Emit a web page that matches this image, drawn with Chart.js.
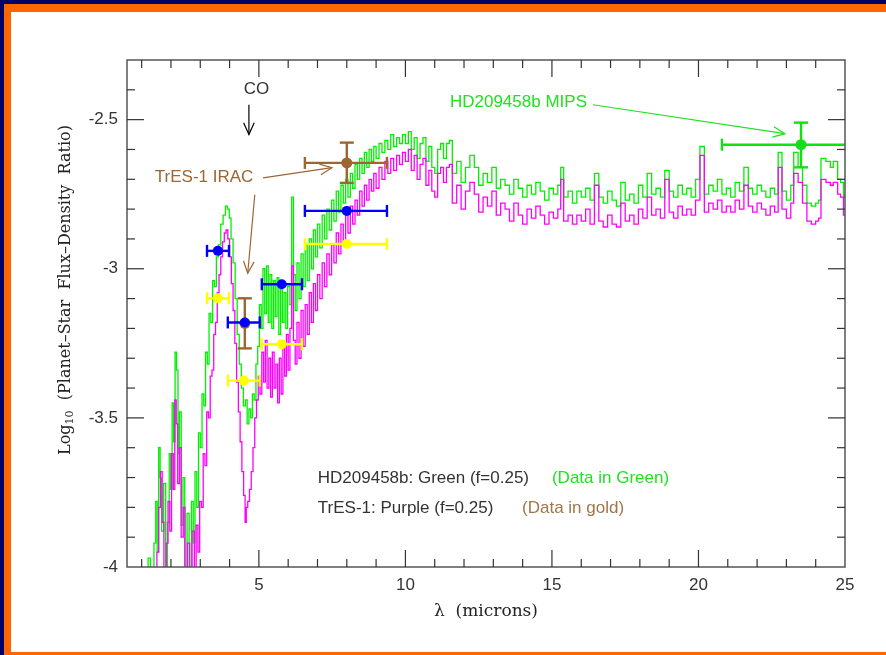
<!DOCTYPE html>
<html>
<head>
<meta charset="utf-8">
<script src="https://cdn.jsdelivr.net/npm/chart.js@4.4.1/dist/chart.umd.min.js"></script>
<style>
html, body { margin: 0; padding: 0; width: 886px; height: 655px; overflow: hidden; background: #000066; }
#frame { position: absolute; left: 4px; top: 4px; width: 900px; height: 640px; background: #fff;
         border-left: 7px solid #ff6600; border-top: 8px solid #ff6600; border-bottom: 3px solid #ff6600; }
#c { position: absolute; left: 0; top: 0; }
</style>
</head>
<body>
<div id="frame"></div>
<canvas id="c" width="886" height="655"></canvas>
<script>
/* Planet-star flux ratio spectra, HD209458b vs TrES-1 */

// ── Axis ticks ────────────────────────────────────────────────────
const xTickLabels = [5, 10, 15, 20, 25];
const yTickLabels = [-4, -3.5, -3, -2.5];

// ── Model spectra (microns, log10 ratio) ──────────────────────────
const greenX = [1.00,1.15,1.22,1.30,1.42,1.48,1.53,1.58,1.63,1.68,1.75,1.82,1.88,1.94,1.99,2.04,2.09,2.14,2.19,2.24,
  2.29,2.35,2.41,2.47,2.55,2.62,2.70,2.76,2.82,2.88,2.94,3.00,3.06,3.12,3.18,3.24,3.30,3.36,3.42,3.48,
  3.55,3.62,3.70,3.78,3.86,3.93,3.99,4.05,4.12,4.19,4.26,4.33,4.40,4.47,4.54,4.60,4.66,4.72,4.78,4.84,
  4.90,4.96,5.02,5.08,5.14,5.20,5.26,5.32,5.38,5.44,5.50,5.56,5.62,5.68,5.74,5.80,5.86,5.92,5.98,6.06,
  6.12,6.18,6.24,6.30,6.37,6.44,6.51,6.58,6.65,6.72,6.79,6.86,6.93,7.00,7.08,7.16,7.24,7.32,7.40,7.48,
  7.56,7.64,7.72,7.80,7.88,7.96,8.04,8.12,8.20,8.28,8.36,8.44,8.52,8.60,8.68,8.76,8.84,8.92,9.00,9.10,
  9.20,9.30,9.40,9.50,9.60,9.70,9.80,9.90,10.00,10.10,10.20,10.30,10.40,10.50,10.60,10.70,10.80,10.90,11.00,11.10,
  11.20,11.30,11.40,11.50,11.60,11.75,11.90,12.05,12.20,12.35,12.50,12.65,12.80,12.95,13.10,13.25,13.40,13.55,13.70,13.85,
  14.00,14.15,14.30,14.45,14.60,14.75,14.90,15.05,15.20,15.30,15.40,15.55,15.70,15.85,16.00,16.15,16.30,16.45,16.60,16.75,
  16.90,17.05,17.20,17.35,17.50,17.65,17.80,17.95,18.10,18.25,18.40,18.55,18.70,18.85,19.00,19.15,19.30,19.45,19.60,19.75,
  19.90,20.05,20.20,20.35,20.50,20.65,20.80,20.95,21.10,21.25,21.40,21.55,21.70,21.85,22.00,22.15,22.30,22.45,22.60,22.72,
  22.85,23.00,23.15,23.25,23.40,23.55,23.70,23.85,24.00,24.10,24.18,24.35,24.50,24.60,24.75,24.85,24.95,25.00];
const greenY = [-4.10,-4.02,-3.97,-4.10,-3.92,-3.78,-3.95,-3.60,-3.70,-3.88,-3.72,-4.05,-3.85,-3.62,-3.74,-3.45,-3.58,-3.28,-3.34,-3.62,
  -3.48,-3.86,-3.70,-4.05,-3.82,-4.08,-3.78,-3.92,-3.68,-3.80,-3.55,-3.60,-3.42,-3.46,-3.28,-3.32,-3.15,-3.18,-3.04,-3.06,
  -2.96,-2.92,-2.85,-2.82,-2.79,-2.80,-2.83,-2.90,-2.98,-3.10,-3.22,-3.32,-3.40,-3.46,-3.44,-3.52,-3.47,-3.50,-3.42,-3.44,
  -3.32,-3.26,-3.12,-3.20,-3.00,-3.15,-2.99,-3.18,-3.02,-3.20,-3.04,-3.16,-3.03,-3.22,-3.06,-3.18,-3.08,-3.20,-3.06,-3.12,
  -2.76,-3.02,-3.14,-2.98,-3.10,-2.95,-3.06,-2.92,-3.04,-2.90,-3.00,-2.87,-2.96,-2.85,-2.93,-2.82,-2.90,-2.80,-2.87,-2.77,
  -2.84,-2.74,-2.81,-2.72,-2.78,-2.70,-2.76,-2.68,-2.73,-2.65,-2.70,-2.63,-2.68,-2.61,-2.66,-2.60,-2.64,-2.59,-2.63,-2.58,
  -2.61,-2.57,-2.60,-2.55,-2.59,-2.56,-2.58,-2.55,-2.58,-2.54,-2.60,-2.56,-2.63,-2.58,-2.56,-2.64,-2.59,-2.66,-2.68,-2.60,
  -2.58,-2.63,-2.58,-2.57,-2.68,-2.64,-2.71,-2.66,-2.62,-2.66,-2.72,-2.68,-2.71,-2.66,-2.73,-2.70,-2.72,-2.75,-2.70,-2.73,
  -2.76,-2.72,-2.75,-2.71,-2.74,-2.77,-2.73,-2.75,-2.72,-2.66,-2.76,-2.74,-2.78,-2.74,-2.76,-2.73,-2.77,-2.68,-2.76,-2.78,
  -2.74,-2.77,-2.79,-2.71,-2.77,-2.75,-2.78,-2.72,-2.76,-2.68,-2.75,-2.73,-2.76,-2.67,-2.74,-2.76,-2.72,-2.75,-2.73,-2.76,
  -2.70,-2.59,-2.75,-2.72,-2.74,-2.70,-2.75,-2.73,-2.76,-2.71,-2.74,-2.66,-2.73,-2.75,-2.72,-2.74,-2.76,-2.73,-2.75,-2.61,
  -2.74,-2.77,-2.72,-2.61,-2.66,-2.72,-2.78,-2.79,-2.78,-2.77,-2.63,-2.64,-2.66,-2.64,-2.70,-2.71,-2.76,-2.75];

const purpleX = [1.00,1.40,1.52,1.58,1.64,1.70,1.76,1.84,1.90,1.96,2.02,2.08,2.13,2.18,2.23,2.29,2.35,2.42,2.48,2.56,
  2.64,2.72,2.80,2.86,2.92,2.98,3.04,3.10,3.16,3.22,3.28,3.34,3.40,3.46,3.52,3.58,3.64,3.70,3.76,3.82,
  3.88,3.94,4.00,4.06,4.12,4.18,4.24,4.30,4.36,4.42,4.48,4.53,4.57,4.62,4.68,4.74,4.80,4.86,4.92,4.98,
  5.04,5.10,5.16,5.22,5.28,5.34,5.40,5.46,5.52,5.58,5.64,5.70,5.76,5.82,5.88,5.94,6.00,6.06,6.12,6.18,
  6.24,6.30,6.37,6.44,6.51,6.58,6.65,6.72,6.79,6.86,6.93,7.00,7.08,7.16,7.24,7.32,7.40,7.48,7.56,7.64,
  7.72,7.80,7.88,7.96,8.04,8.12,8.20,8.28,8.36,8.44,8.52,8.60,8.68,8.76,8.84,8.92,9.00,9.10,9.20,9.30,
  9.40,9.50,9.60,9.70,9.80,9.90,10.00,10.10,10.20,10.30,10.40,10.50,10.60,10.70,10.80,10.90,11.00,11.10,11.20,11.30,
  11.40,11.50,11.60,11.75,11.90,12.05,12.20,12.35,12.50,12.65,12.80,12.95,13.10,13.25,13.40,13.55,13.70,13.85,14.00,14.15,
  14.30,14.45,14.60,14.75,14.90,15.05,15.20,15.30,15.40,15.55,15.70,15.85,16.00,16.15,16.30,16.45,16.60,16.75,16.90,17.05,
  17.20,17.35,17.50,17.65,17.80,17.95,18.10,18.25,18.40,18.55,18.70,18.85,19.00,19.15,19.30,19.45,19.60,19.75,19.90,20.05,
  20.20,20.35,20.50,20.65,20.80,20.95,21.10,21.25,21.40,21.55,21.70,21.85,22.00,22.15,22.30,22.45,22.60,22.72,22.85,23.00,
  23.15,23.25,23.40,23.55,23.70,23.85,24.00,24.10,24.18,24.35,24.50,24.60,24.75,24.85,24.95,25.00];
const purpleY = [-4.10,-4.08,-3.95,-3.80,-3.68,-3.85,-4.05,-3.92,-3.78,-3.88,-3.62,-3.74,-3.44,-3.52,-3.72,-3.60,-3.90,-3.80,-4.08,-3.92,
  -4.10,-3.88,-4.02,-3.86,-3.95,-3.78,-3.80,-3.62,-3.66,-3.48,-3.50,-3.36,-3.34,-3.22,-3.18,-3.08,-3.02,-2.96,-2.91,-2.88,
  -2.87,-2.90,-2.96,-3.05,-3.14,-3.25,-3.38,-3.48,-3.58,-3.68,-3.76,-3.85,-3.80,-3.78,-3.74,-3.68,-3.60,-3.50,-3.44,-3.36,
  -3.42,-3.28,-3.38,-3.24,-3.40,-3.30,-3.43,-3.28,-3.40,-3.32,-3.45,-3.30,-3.42,-3.26,-3.36,-3.22,-3.34,-3.20,-2.99,-3.24,
  -3.32,-3.18,-3.30,-3.14,-3.26,-3.12,-3.22,-3.08,-3.18,-3.05,-3.14,-3.02,-3.10,-2.98,-3.06,-2.95,-3.02,-2.92,-2.98,-2.88,
  -2.95,-2.85,-2.91,-2.82,-2.88,-2.79,-2.85,-2.77,-2.82,-2.74,-2.79,-2.72,-2.77,-2.70,-2.74,-2.68,-2.73,-2.66,-2.70,-2.64,
  -2.68,-2.63,-2.67,-2.62,-2.65,-2.61,-2.64,-2.60,-2.67,-2.62,-2.70,-2.65,-2.63,-2.72,-2.67,-2.74,-2.76,-2.68,-2.66,-2.71,
  -2.66,-2.65,-2.78,-2.72,-2.80,-2.74,-2.71,-2.75,-2.81,-2.76,-2.79,-2.74,-2.82,-2.78,-2.80,-2.84,-2.78,-2.82,-2.85,-2.80,
  -2.83,-2.79,-2.82,-2.85,-2.81,-2.83,-2.80,-2.70,-2.84,-2.82,-2.85,-2.82,-2.84,-2.80,-2.85,-2.72,-2.84,-2.86,-2.82,-2.85,
  -2.86,-2.78,-2.84,-2.82,-2.85,-2.80,-2.83,-2.76,-2.82,-2.80,-2.83,-2.70,-2.81,-2.83,-2.79,-2.82,-2.80,-2.82,-2.77,-2.62,
  -2.81,-2.78,-2.80,-2.77,-2.81,-2.79,-2.81,-2.77,-2.80,-2.72,-2.79,-2.81,-2.78,-2.80,-2.82,-2.79,-2.81,-2.66,-2.80,-2.83,
  -2.78,-2.68,-2.71,-2.78,-2.84,-2.85,-2.84,-2.83,-2.70,-2.71,-2.72,-2.71,-2.75,-2.76,-2.82,-2.82];

// ── Observations ──────────────────────────────────────────────────
// HD209458b IRAC (blue)
const blueX   = [3.60, 4.52, 5.78, 8.00];
const blueY   = [-2.94, -3.18, -3.052, -2.806];
const blueXLo = [3.23, 3.94, 5.10, 6.57];
const blueXHi = [3.98, 5.03, 6.47, 9.37];
// yellow set
const yellowX   = [3.60, 4.49, 5.78, 8.00];
const yellowY   = [-3.099, -3.375, -3.253, -2.917];
const yellowXLo = [3.23, 3.94, 5.10, 6.57];
const yellowXHi = [3.98, 5.03, 6.47, 9.37];
// TrES-1 IRAC (brown)
const brownX   = [4.52, 8.00];
const brownY   = [-3.183, -2.645];
const brownXLo = [null, 6.57];
const brownXHi = [null, 9.37];
const brownYLo = [-3.267, -2.712];
const brownYHi = [-3.099, -2.577];
// HD209458b MIPS 24 micron (green)
const mipsX   = [23.5];
const mipsY   = [-2.584];
const mipsXLo = [20.8];
const mipsXHi = [26.2];
const mipsYLo = [-2.66];
const mipsYHi = [-2.51];

const C_GREEN = '#00f000', C_MAG = '#ff00ff', C_BLUE = '#0000ff',
      C_YEL = '#ffff00', C_BROWN = '#9c6633', C_TEXT = '#333333';

function xy(xs, ys) { return xs.map((x, i) => ({ x: x, y: ys[i] })); }
function bars(xs, ys, xlo, xhi, ylo, yhi) {
    return xs.map((x, i) => ({
        x: x, y: ys[i],
        xlo: xlo ? xlo[i] : null, xhi: xhi ? xhi[i] : null,
        ylo: ylo ? ylo[i] : null, yhi: yhi ? yhi[i] : null
    }));
}

function seg(ctx, x1, y1, x2, y2) {
    ctx.beginPath(); ctx.moveTo(x1, y1); ctx.lineTo(x2, y2); ctx.stroke();
}

function arrow(ctx, x1, y1, x2, y2, color) {
    const ang = Math.atan2(y2 - y1, x2 - x1), L = 13, w = 0.42;
    ctx.strokeStyle = color; ctx.lineWidth = 1.2;
    seg(ctx, x1, y1, x2, y2);
    ctx.beginPath();
    ctx.moveTo(x2 - L * Math.cos(ang - w), y2 - L * Math.sin(ang - w));
    ctx.lineTo(x2, y2);
    ctx.lineTo(x2 - L * Math.cos(ang + w), y2 - L * Math.sin(ang + w));
    ctx.stroke();
}

// ── Plugin: error bars, frame, minor ticks, labels ────────────────
const plotDecor = {
    id: 'plotDecor',
    beforeDatasetDraw(chart, args) {
        const ds = chart.data.datasets[args.index];
        if (!ds.bars) return;
        const { ctx, chartArea: a, scales: { x, y } } = chart;
        ctx.save();
        ctx.beginPath(); ctx.rect(a.left, a.top, a.width, a.height); ctx.clip();
        ctx.strokeStyle = ds.backgroundColor; ctx.lineWidth = 2.4;
        ds.bars.forEach(b => {
            const px = x.getPixelForValue(b.x), py = y.getPixelForValue(b.y);
            if (b.xlo != null) {
                const l = x.getPixelForValue(b.xlo), r = x.getPixelForValue(b.xhi);
                seg(ctx, l, py, r, py);
                seg(ctx, l, py - 6, l, py + 6);
                seg(ctx, r, py - 6, r, py + 6);
            }
            if (b.ylo != null) {
                const t = y.getPixelForValue(b.yhi), bt = y.getPixelForValue(b.ylo);
                seg(ctx, px, t, px, bt);
                seg(ctx, px - 7, t, px + 7, t);
                seg(ctx, px - 7, bt, px + 7, bt);
            }
        });
        ctx.restore();
    },
    afterDraw(chart) {
        const { ctx, chartArea: a, scales: { x, y } } = chart;
        ctx.save();
        // box
        ctx.strokeStyle = '#555'; ctx.lineWidth = 1.5;
        ctx.strokeRect(a.left, a.top, a.width, a.height);
        // ticks, pointing inward
        ctx.lineWidth = 1.2; ctx.strokeStyle = '#333';
        for (let v = 1; v <= 24; v++) {
            const px = x.getPixelForValue(v), len = v % 5 === 0 ? 17 : 8;
            seg(ctx, px, a.bottom, px, a.bottom - len);
            seg(ctx, px, a.top, px, a.top + len);
        }
        for (let k = -39; k <= -24; k++) {
            const py = y.getPixelForValue(k / 10), len = k % 5 === 0 ? 17 : 8;
            seg(ctx, a.left, py, a.left + len, py);
            seg(ctx, a.right, py, a.right - len, py);
        }

        const P = (vx, vy) => [x.getPixelForValue(vx), y.getPixelForValue(vy)];
        const sans = '17px "Liberation Sans", Arial, sans-serif';
        ctx.font = sans; ctx.textBaseline = 'middle';

        // CO
        let p = P(4.92, -2.399);
        ctx.fillStyle = C_TEXT; ctx.textAlign = 'center';
        ctx.fillText('CO', p[0], p[1]);
        arrow(ctx, ...P(4.66, -2.45), ...P(4.66, -2.55), '#000');

        // TrES-1 IRAC
        ctx.textAlign = 'left'; ctx.fillStyle = C_BROWN;
        p = P(1.45, -2.695);
        ctx.fillText('TrES-1 IRAC', p[0], p[1]);
        arrow(ctx, ...P(5.14, -2.695), ...P(7.49, -2.661), C_BROWN);
        arrow(ctx, ...P(4.86, -2.752), ...P(4.62, -3.015), C_BROWN);

        // HD209458b MIPS
        ctx.fillStyle = '#22e022';
        p = P(11.52, -2.443);
        ctx.fillText('HD209458b MIPS', p[0], p[1]);
        arrow(ctx, ...P(16.40, -2.45), ...P(22.95, -2.547), '#22e022');

        // key text
        ctx.fillStyle = C_TEXT;
        p = P(7.01, -3.701); ctx.fillText('HD209458b: Green (f=0.25)', p[0], p[1]);
        p = P(7.01, -3.802); ctx.fillText('TrES-1: Purple (f=0.25)', p[0], p[1]);
        ctx.fillStyle = '#22e022';
        p = P(15.0, -3.701); ctx.fillText('(Data in Green)', p[0], p[1]);
        ctx.fillStyle = '#a0764a';
        p = P(13.98, -3.802); ctx.fillText('(Data in gold)', p[0], p[1]);

        // axis titles
        const serif = '"DejaVu Serif", serif';
        ctx.fillStyle = '#222';
        ctx.textAlign = 'center';
        ctx.font = '17px ' + serif;
        ctx.fillText('\u03bb  (microns)', (a.left + a.right) / 2, 612);

        ctx.translate(66, 290);
        ctx.rotate(-Math.PI / 2);
        ctx.textAlign = 'left'; ctx.textBaseline = 'middle';
        const big = '16px ' + serif, small = '11px ' + serif;
        const t1 = 'Log', t2 = '10', t3 = '  (Planet\u2013Star  Flux\u2013Density  Ratio)';
        ctx.font = big; const w1 = ctx.measureText(t1).width, w3 = ctx.measureText(t3).width;
        ctx.font = small; const w2 = ctx.measureText(t2).width;
        let sx = -(w1 + w2 + w3) / 2;
        ctx.font = big; ctx.fillText(t1, sx, 0); sx += w1;
        ctx.font = small; ctx.fillText(t2, sx, 4); sx += w2;
        ctx.font = big; ctx.fillText(t3, sx, 0);
        ctx.restore();
    }
};

const tickFont = { family: '"Liberation Sans", Arial, sans-serif', size: 17 };

new Chart(document.getElementById('c'), {
    type: 'line',
    data: {
        datasets: [
            { type: 'scatter', data: xy(mipsX, mipsY), bars: bars(mipsX, mipsY, mipsXLo, mipsXHi, mipsYLo, mipsYHi),
              backgroundColor: '#11e011', pointRadius: 5.5, borderWidth: 0, order: 1 },
            { type: 'scatter', data: xy(blueX, blueY), bars: bars(blueX, blueY, blueXLo, blueXHi),
              backgroundColor: C_BLUE, pointRadius: 5, borderWidth: 0, order: 2 },
            { type: 'scatter', data: xy(brownX, brownY), bars: bars(brownX, brownY, brownXLo, brownXHi, brownYLo, brownYHi),
              backgroundColor: C_BROWN, pointRadius: 5.5, borderWidth: 0, order: 3 },
            { type: 'scatter', data: xy(yellowX, yellowY), bars: bars(yellowX, yellowY, yellowXLo, yellowXHi),
              backgroundColor: C_YEL, pointRadius: 5, borderWidth: 0, order: 4 },
            { label: 'TrES-1', data: xy(purpleX, purpleY), borderColor: C_MAG, borderWidth: 1.3,
              pointRadius: 0, stepped: true, fill: false, order: 5 },
            { label: 'HD209458b', data: xy(greenX, greenY), borderColor: C_GREEN, borderWidth: 1.3,
              pointRadius: 0, stepped: true, fill: false, order: 6 }
        ]
    },
    options: {
        responsive: false,
        animation: false,
        events: [],
        layout: { padding: { top: 60, right: 41, left: 0, bottom: 0 } },
        scales: {
            x: {
                type: 'linear', min: 0.5, max: 25,
                grid: { display: false, drawTicks: false }, border: { display: false },
                ticks: { color: C_TEXT, font: tickFont, padding: 8, autoSkip: false, maxRotation: 0,
                         callback: v => String(v) },
                afterBuildTicks: s => { s.ticks = xTickLabels.map(v => ({ value: v })); },
                afterFit: s => { s.height = 88; }
            },
            y: {
                type: 'linear', min: -4, max: -2.3,
                grid: { display: false, drawTicks: false }, border: { display: false },
                ticks: { color: C_TEXT, font: tickFont, padding: 9, autoSkip: false,
                         callback: v => String(v) },
                afterBuildTicks: s => { s.ticks = yTickLabels.map(v => ({ value: v })); },
                afterFit: s => { s.width = 127; }
            }
        },
        plugins: { legend: { display: false }, tooltip: { enabled: false } }
    },
    plugins: [plotDecor]
});
</script>
</body>
</html>
